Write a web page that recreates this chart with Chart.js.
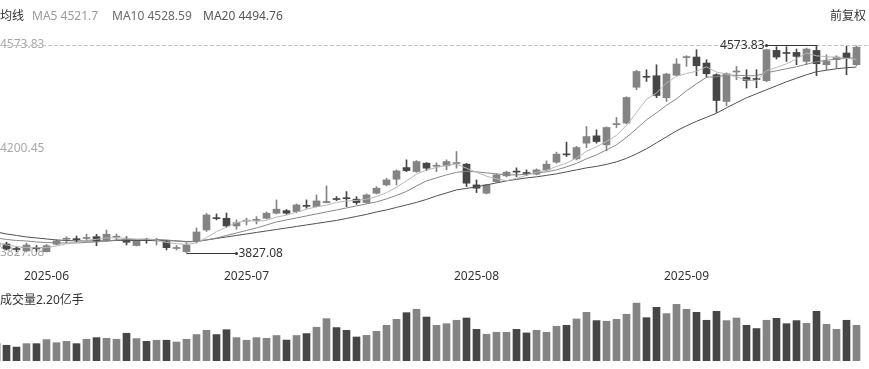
<!DOCTYPE html>
<html>
<head>
<meta charset="utf-8">
<script src="https://cdn.jsdelivr.net/npm/chart.js@4.4.0/dist/chart.umd.min.js"></script>
<style>
  body { margin: 0; background: #fff; width: 869px; height: 369px; overflow: hidden; position: relative;
         font-family: "Noto Sans", "Noto Sans CJK SC", sans-serif; font-size: 12px; }
  .txt { position: absolute; white-space: nowrap; line-height: 14px; }
  #priceBox { position: absolute; left: 0; top: 0; width: 869px; height: 290px; }
  #volBox { position: absolute; left: 0; top: 290px; width: 869px; height: 79px; }
</style>
</head>
<body>
<div id="priceBox"><canvas id="price"></canvas></div>
<div id="volBox"><canvas id="vol"></canvas></div>
<div class="txt" style="left:0;top:9px;color:#333">均线</div>
<div class="txt" id="ma5Txt" style="left:32px;top:9px;color:#9a9a9a"></div>
<div class="txt" id="ma10Txt" style="left:112px;top:9px;color:#6a6a6a"></div>
<div class="txt" id="ma20Txt" style="left:203px;top:9px;color:#555"></div>
<div class="txt" style="right:3px;top:9px;color:#333">前复权</div>
<div class="txt" id="volTxt" style="left:0;top:293px;color:#333"></div>
<script>
// daily candles, 2025-05-26 .. 2025-09-24 (index = trading day)
const OPEN = [
  3863.1, 3859.5, 3843.3, 3834.4, 3845.8, 3831.8, 3858.4, 3876.4, 3878.6, 3879.3,
  3885.7, 3873.9, 3883.8, 3877.5, 3853.8, 3874.6, 3870.3, 3867.8, 3843.3, 3831.8,
  3867.8, 3909.8, 3953.0, 3951.9, 3924.2, 3941.5, 3944.5, 3951.9, 3969.9, 3979.2,
  3975.6, 3997.5, 3993.6, 4008.0, 4022.0, 4025.0, 4020.2, 4008.0, 4041.8, 4071.6,
  4092.1, 4133.8, 4119.4, 4149.6, 4138.5, 4139.9, 4148.2, 4146.0, 4071.6, 4041.8,
  4083.5, 4104.0, 4120.5, 4115.5, 4110.1, 4125.5, 4153.2, 4182.5, 4165.1, 4221.5,
  4247.8, 4215.4, 4288.0, 4293.4, 4422.1, 4461.0, 4463.5, 4384.4, 4465.3, 4528.5,
  4530.7, 4509.1, 4467.1, 4371.0, 4477.0, 4457.3, 4453.5, 4445.5, 4554.4, 4547.0,
  4547.2, 4514.9, 4554.4, 4503.0, 4521.0, 4545.1, 4503.0
];
const HIGH = [
  3870.3, 3865.6, 3848.7, 3863.1, 3854.1, 3857.7, 3873.9, 3885.7, 3888.2, 3894.4,
  3894.4, 3909.8, 3895.5, 3885.7, 3873.9, 3880.0, 3880.0, 3872.1, 3854.1, 3863.1,
  3917.0, 3969.1, 3967.3, 3970.9, 3945.8, 3952.1, 3957.6, 3974.6, 4017.7, 3983.5,
  4003.3, 4017.7, 4035.6, 4068.0, 4029.6, 4047.5, 4029.6, 4039.2, 4065.5, 4095.0,
  4125.5, 4161.5, 4159.0, 4151.8, 4150.7, 4161.5, 4191.3, 4148.9, 4089.6, 4073.4,
  4111.2, 4120.9, 4132.7, 4125.5, 4129.1, 4157.9, 4189.1, 4225.1, 4210.0, 4281.2,
  4269.3, 4280.1, 4313.5, 4388.0, 4483.2, 4485.0, 4503.0, 4472.4, 4524.6, 4535.4,
  4556.9, 4521.0, 4470.6, 4474.2, 4496.9, 4485.0, 4485.0, 4558.7, 4567.7, 4567.7,
  4559.4, 4563.0, 4573.83, 4538.9, 4535.4, 4568.8, 4570.5
];
const LOW = [
  3841.5, 3837.9, 3831.8, 3830.8, 3832.5, 3830.8, 3855.9, 3862.0, 3865.6, 3870.3,
  3853.4, 3870.3, 3873.9, 3855.9, 3852.3, 3862.0, 3855.9, 3837.9, 3837.9, 3827.08,
  3863.1, 3904.4, 3945.8, 3919.5, 3912.4, 3927.8, 3931.4, 3949.4, 3967.3, 3965.5,
  3970.9, 3987.9, 3992.5, 4006.9, 4015.2, 3993.6, 4001.7, 4005.1, 4039.2, 4068.0,
  4071.6, 4119.4, 4116.5, 4123.0, 4119.4, 4125.5, 4131.6, 4065.5, 4043.9, 4039.2,
  4080.6, 4100.4, 4101.4, 4105.0, 4107.6, 4121.9, 4149.6, 4173.3, 4161.5, 4205.7,
  4221.5, 4193.8, 4277.6, 4290.9, 4413.1, 4443.0, 4384.4, 4371.0, 4463.5, 4496.9,
  4463.5, 4458.8, 4331.5, 4355.6, 4449.1, 4419.3, 4420.3, 4441.9, 4523.5, 4514.9,
  4503.0, 4503.0, 4463.5, 4485.0, 4491.1, 4467.1, 4500.0
];
const CLOSE = [
  3848.7, 3841.5, 3839.7, 3855.9, 3842.2, 3853.4, 3870.3, 3879.0, 3875.0, 3882.9,
  3870.3, 3894.4, 3886.4, 3865.6, 3870.3, 3871.5, 3873.0, 3846.2, 3846.0, 3855.9,
  3902.6, 3963.7, 3950.4, 3924.2, 3936.1, 3944.5, 3947.5, 3969.9, 3984.2, 3969.9,
  3999.7, 3994.5, 4014.1, 4012.3, 4019.0, 4022.0, 4008.0, 4035.6, 4059.7, 4089.6,
  4121.9, 4123.0, 4155.4, 4131.6, 4141.5, 4155.4, 4151.0, 4077.7, 4059.7, 4071.6,
  4107.6, 4117.3, 4117.5, 4112.5, 4125.5, 4146.0, 4181.9, 4179.5, 4205.7, 4245.2,
  4227.3, 4277.6, 4291.0, 4385.4, 4478.9, 4458.0, 4392.6, 4469.6, 4505.5, 4531.8,
  4499.4, 4470.6, 4374.6, 4470.6, 4480.0, 4446.5, 4450.0, 4556.9, 4530.7, 4543.5,
  4532.8, 4559.4, 4506.6, 4514.9, 4530.7, 4527.1, 4566.0
];
// volume, 亿手
const VOLUME = [
  1.07, 0.97, 0.86, 1.07, 1.07, 1.32, 1.13, 1.21, 1.07, 1.34,
  1.44, 1.40, 1.34, 1.71, 1.38, 1.21, 1.28, 1.28, 1.17, 1.34,
  1.63, 1.89, 1.63, 1.93, 1.44, 1.28, 1.44, 1.40, 1.57, 1.29,
  1.57, 1.69, 2.08, 2.61, 2.06, 1.89, 1.48, 1.58, 1.83, 2.20,
  2.57, 2.98, 3.19, 2.71, 2.20, 2.30, 2.51, 2.65, 1.95, 1.65,
  1.77, 1.77, 1.95, 1.73, 1.89, 1.77, 2.14, 2.20, 2.59, 3.00,
  2.49, 2.45, 2.57, 2.88, 3.57, 2.67, 3.31, 2.92, 3.49, 3.19,
  3.00, 2.51, 3.06, 2.49, 2.65, 2.20, 2.00, 2.51, 2.63, 2.30,
  2.49, 2.32, 3.06, 2.26, 1.95, 2.51, 2.20
];
const MA5 = [
  3863.1, 3855.9, 3850.5, 3846.9, 3845.5, 3846.6, 3852.3, 3860.2, 3864.5, 3872.8,
  3876.0, 3881.1, 3882.1, 3879.6, 3877.1, 3877.5, 3872.8, 3864.9, 3860.6, 3857.7,
  3863.8, 3882.5, 3903.7, 3919.9, 3936.1, 3944.4, 3940.8, 3944.4, 3956.2, 3963.0,
  3974.2, 3984.2, 3992.9, 3998.6, 4008.7, 4013.7, 4015.9, 4020.2, 4029.5, 4043.6,
  4063.0, 4086.0, 4110.1, 4124.5, 4134.5, 4141.4, 4146.7, 4131.3, 4116.9, 4102.9,
  4093.5, 4086.7, 4095.0, 4106.1, 4116.9, 4124.5, 4137.4, 4150.0, 4168.3, 4192.0,
  4208.6, 4227.6, 4249.2, 4285.2, 4331.9, 4378.6, 4401.6, 4437.2, 4461.3, 4471.7,
  4479.7, 4495.5, 4476.4, 4469.6, 4459.1, 4448.4, 4444.8, 4481.4, 4493.3, 4506.6,
  4523.9, 4545.1, 4535.0, 4532.1, 4528.9, 4525.9, 4521.7
];
const MA10 = [
  3881.1, 3875.7, 3872.1, 3870.3, 3866.7, 3864.9, 3863.1, 3863.1, 3863.1, 3864.9,
  3866.7, 3870.3, 3873.9, 3875.7, 3875.7, 3876.4, 3875.7, 3873.9, 3870.3, 3866.7,
  3868.5, 3873.9, 3881.1, 3890.1, 3899.0, 3908.0, 3917.0, 3927.8, 3938.6, 3945.8,
  3953.0, 3960.2, 3967.4, 3974.5, 3981.7, 3988.9, 3996.1, 4003.3, 4010.5, 4021.3,
  4033.9, 4048.2, 4068.0, 4086.0, 4096.8, 4107.6, 4116.6, 4120.2, 4118.4, 4114.8,
  4111.2, 4107.6, 4107.6, 4109.4, 4114.8, 4118.4, 4125.5, 4136.3, 4148.9, 4165.1,
  4179.3, 4197.4, 4215.4, 4242.4, 4272.9, 4305.3, 4330.5, 4357.4, 4380.8, 4409.5,
  4434.7, 4458.1, 4459.9, 4465.3, 4465.3, 4463.5, 4463.5, 4474.2, 4481.4, 4488.6,
  4495.8, 4504.8, 4513.8, 4519.2, 4522.8, 4526.4, 4528.59
];
const MA20 = [
  3902.6, 3895.4, 3890.1, 3884.7, 3881.1, 3877.5, 3873.9, 3872.1, 3870.3, 3870.3,
  3870.3, 3870.3, 3872.1, 3872.1, 3872.1, 3872.1, 3872.1, 3872.1, 3870.3, 3868.5,
  3868.5, 3873.9, 3879.3, 3884.7, 3890.1, 3895.4, 3900.8, 3906.2, 3911.6, 3917.0,
  3922.4, 3927.8, 3933.2, 3938.6, 3944.0, 3951.2, 3958.4, 3965.6, 3974.5, 3981.7,
  3990.7, 3999.7, 4008.7, 4019.5, 4032.1, 4042.8, 4053.6, 4059.0, 4064.4, 4071.6,
  4078.8, 4086.0, 4091.4, 4096.8, 4100.4, 4105.8, 4111.2, 4118.4, 4125.5, 4132.7,
  4138.1, 4145.3, 4154.3, 4166.9, 4183.1, 4201.1, 4222.6, 4244.2, 4265.8, 4283.7,
  4299.9, 4314.3, 4328.7, 4348.4, 4366.4, 4384.4, 4398.7, 4413.1, 4427.5, 4441.9,
  4454.5, 4467.1, 4477.8, 4483.2, 4488.6, 4492.2, 4494.76
];
const PRICE_TICKS = [4573.83, 4200.45, 3827.08];
const MONTH_TICKS = [5, 25, 48, 69];
const MONTH_LABELS = ['2025-06', '2025-07', '2025-08', '2025-09'];

const UP = '#848484';
const DOWN = '#464646';
const MA_COLORS = ['#b8b8b8', '#888888', '#505050'];
const X_MIN = 0.35, X_MAX = 87.25;

Chart.defaults.font.family = '"Noto Sans", "Noto Sans CJK SC", sans-serif';
Chart.defaults.font.size = 12;

const candleColor = (ctx) => CLOSE[ctx.dataIndex] >= OPEN[ctx.dataIndex] ? UP : DOWN;
const xy = (arr) => arr.map((v, i) => ({ x: i, y: v }));

document.getElementById('ma5Txt').textContent = 'MA5 ' + MA5[MA5.length - 1];
document.getElementById('ma10Txt').textContent = 'MA10 ' + MA10[MA10.length - 1];
document.getElementById('ma20Txt').textContent = 'MA20 ' + MA20[MA20.length - 1];
document.getElementById('volTxt').textContent = '成交量' + VOLUME[VOLUME.length - 1].toFixed(2) + '亿手';

// dashed max line + high / low markers
const markerPlugin = {
  id: 'markers',
  beforeDatasetsDraw(chart) {
    const { ctx, scales: { y }, width } = chart;
    const py = Math.round(y.getPixelForValue(PRICE_TICKS[0])) + 0.5;
    ctx.save();
    ctx.strokeStyle = '#c4c4c4';
    ctx.lineWidth = 1;
    ctx.setLineDash([4, 2]);
    ctx.beginPath();
    ctx.moveTo(0, py);
    ctx.lineTo(width, py);
    ctx.stroke();
    ctx.restore();
  },
  afterDatasetsDraw(chart) {
    const { ctx, scales: { x, y }, chartArea } = chart;
    const hiIdx = HIGH.indexOf(Math.max(...HIGH));
    const loIdx = LOW.indexOf(Math.min(...LOW));
    const mark = (idx, val) => {
      const px = x.getPixelForValue(idx);
      const py = Math.round(y.getPixelForValue(val)) + 0.5;
      const toLeft = px > (chartArea.left + chartArea.right) / 2;
      const ex = toLeft ? px - 50 : px + 50;
      ctx.save();
      ctx.strokeStyle = '#333';
      ctx.fillStyle = '#333';
      ctx.lineWidth = 1;
      ctx.beginPath();
      ctx.moveTo(px, py);
      ctx.lineTo(ex, py);
      ctx.stroke();
      ctx.beginPath();
      ctx.arc(ex, py, 1.5, 0, Math.PI * 2);
      ctx.fill();
      ctx.font = '12px "Noto Sans", "Noto Sans CJK SC", sans-serif';
      ctx.textBaseline = 'middle';
      ctx.textAlign = toLeft ? 'right' : 'left';
      ctx.fillText(val.toFixed(2), toLeft ? ex - 2 : ex + 2, py);
      ctx.restore();
    };
    mark(hiIdx, HIGH[hiIdx]);
    mark(loIdx, LOW[loIdx]);
  }
};

new Chart(document.getElementById('price'), {
  type: 'bar',
  data: {
    datasets: [
      { type: 'line', data: xy(MA5), borderColor: MA_COLORS[0], borderWidth: 1, pointRadius: 0, tension: 0, order: 0 },
      { type: 'line', data: xy(MA10), borderColor: MA_COLORS[1], borderWidth: 1, pointRadius: 0, tension: 0, order: 0 },
      { type: 'line', data: xy(MA20), borderColor: MA_COLORS[2], borderWidth: 1, pointRadius: 0, tension: 0, order: 0 },
      { data: LOW.map((v, i) => ({ x: i, y: [v, HIGH[i]] })), backgroundColor: candleColor,
        barThickness: 1, grouped: false, order: 2 },
      { data: OPEN.map((v, i) => ({ x: i, y: [v, CLOSE[i]] })), backgroundColor: candleColor,
        barThickness: 7, minBarLength: 1, grouped: false, order: 1 }
    ]
  },
  options: {
    responsive: true,
    maintainAspectRatio: false,
    animation: false,
    layout: { padding: { top: 45, bottom: 0, left: 0, right: 0 } },
    plugins: { legend: { display: false }, tooltip: { enabled: false } },
    scales: {
      x: {
        type: 'linear', min: X_MIN, max: X_MAX, offset: false,
        grid: { display: false, drawTicks: false }, border: { display: false },
        afterBuildTicks: (s) => { s.ticks = MONTH_TICKS.map(v => ({ value: v })); },
        afterFit: (s) => { s.height = 37; },
        ticks: {
          autoSkip: false, maxRotation: 0, padding: 16, color: '#333',
          callback: (v) => MONTH_LABELS[MONTH_TICKS.indexOf(v)]
        }
      },
      y: {
        position: 'left', min: PRICE_TICKS[2], max: PRICE_TICKS[0],
        grid: { display: false, drawTicks: false }, border: { display: false },
        afterBuildTicks: (s) => { s.ticks = PRICE_TICKS.map(v => ({ value: v })); },
        afterFit: (s) => { s.width = 0; },
        ticks: { mirror: true, padding: 0, color: '#a8a8a8', callback: (v) => v.toFixed(2) }
      }
    }
  },
  plugins: [markerPlugin]
});

new Chart(document.getElementById('vol'), {
  type: 'bar',
  data: {
    datasets: [
      { data: VOLUME.map((v, i) => ({ x: i, y: v })), backgroundColor: candleColor,
        barThickness: 7, grouped: false }
    ]
  },
  options: {
    responsive: true,
    maintainAspectRatio: false,
    animation: false,
    layout: { padding: { top: 10, bottom: 8, left: 0, right: 0 } },
    plugins: { legend: { display: false }, tooltip: { enabled: false } },
    scales: {
      x: { type: 'linear', min: X_MIN, max: X_MAX, offset: false, display: false },
      y: { min: 0, max: 3.76, display: false }
    }
  }
});
</script>
</body>
</html>
